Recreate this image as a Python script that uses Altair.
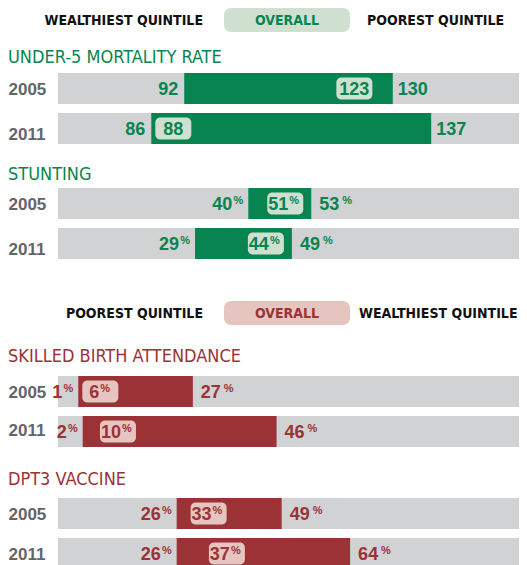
import altair as alt
import pandas as pd

# ---------------- data ----------------
indicators = ["UNDER-5 MORTALITY RATE", "STUNTING", "SKILLED BIRTH ATTENDANCE", "DPT3 VACCINE"]
years = ["2005", "2011"]
wealthiest = [[92, 86], [40, 29], [27, 46], [49, 64]]
poorest = [[130, 137], [53, 49], [1, 2], [26, 26]]
overall = [[123, 88], [51, 44], [6, 10], [33, 37]]
is_percent = [False, True, True, True]

header_top = ["WEALTHIEST QUINTILE", "OVERALL", "POOREST QUINTILE"]
header_bottom = ["POOREST QUINTILE", "OVERALL", "WEALTHIEST QUINTILE"]

# ---------------- styles ----------------
x_domains = [[69, 153], [0.7, 95.9], [-3.6, 101], [0, 101]]
year_shift_2011 = [6, 6, -1, 1]
GREEN, GREEN_LIGHT = "#078450", "#cfe0d1"
RED, RED_LIGHT = "#9b3235", "#e6c5c1"
TRACK = "#d1d2d4"
YEAR_COLOR = "#646469"
NARROW = "Liberation Sans Narrow, DejaVu Sans Condensed, sans-serif"
SANS = "Liberation Sans, Arial, sans-serif"
W = 461
BAND = [0, 71]


def header(labels, color, light, height, right_dx):
    df = pd.DataFrame({"label": labels, "role": ["left", "mid", "right"], "row": ["h"] * 3})
    xs = alt.Scale(type="band", domain=labels, range=[40, 418], paddingInner=0, paddingOuter=0)
    ys = alt.Scale(domain=["h"], range=[0, 24], paddingInner=0, paddingOuter=0)
    base = alt.Chart(df).encode(
        x=alt.X("label:N", scale=xs, axis=None),
        y=alt.Y("row:N", scale=ys, axis=None),
    )
    txt = dict(font=NARROW, fontSize=14, fontWeight="bold", dy=1)
    pill = base.mark_rect(color=light, cornerRadius=7).transform_filter("datum.role == 'mid'")
    mid = base.mark_text(color=color, **txt).encode(text="label:N").transform_filter("datum.role == 'mid'")
    left = base.mark_text(color="#111111", align="right", dx=42, **txt).encode(
        text="label:N").transform_filter("datum.role == 'left'")
    right = base.mark_text(color="#111111", align="left", dx=right_dx, **txt).encode(
        text="label:N").transform_filter("datum.role == 'right'")
    return alt.layer(pill, mid, left, right).properties(width=W, height=height)


def panel(i, color, light, height, title_offset):
    lo = [min(a, b) for a, b in zip(wealthiest[i], poorest[i])]
    hi = [max(a, b) for a, b in zip(wealthiest[i], poorest[i])]
    dmin, dmax = x_domains[i]
    ppu = W / (dmax - dmin)
    pill = [min(max(o, l + 22 / ppu), h - 26 / ppu) for o, l, h in zip(overall[i], lo, hi)]
    pct = is_percent[i]
    df = pd.DataFrame({"year": years, "lo": lo, "hi": hi, "overall": overall[i], "pill": pill})
    xs = alt.Scale(domain=[dmin, dmax], nice=False, zero=False)
    ys = alt.Scale(domain=years, range=BAND, paddingInner=9 / 40, paddingOuter=0)
    shift = year_shift_2011[i]
    base = alt.Chart(df).encode(
        y=alt.Y("year:N", scale=ys, title=None,
                axis=alt.Axis(orient="left", domain=False, ticks=False, labelAlign="left",
                              labelPadding=50, labelFont=SANS, labelFontSize=17,
                              labelFontWeight="bold", labelColor=YEAR_COLOR, labelBaseline="middle",
                              labelOffset=alt.ExprRef(f"datum.value == '2011' ? {shift} : 1")))
    )
    track = base.mark_bar(color=TRACK).encode(
        x=alt.XDatum(dmin, type="quantitative", scale=xs, axis=None), x2=alt.X2Datum(dmax))
    rng = base.mark_bar(color=color).encode(x=alt.X("lo:Q", scale=xs, axis=None), x2="hi:Q")
    pillm = base.mark_rect(color=light, width=36, height=22, cornerRadius=5).encode(
        x=alt.X("pill:Q", scale=xs, axis=None))
    num = dict(font=SANS, fontSize=18, fontWeight="bold", color=color, baseline="middle", dy=1)
    small = dict(font=SANS, fontSize=11, fontWeight="bold", color=color, baseline="middle", dy=-3)
    layers = [track, rng, pillm]
    if pct:
        layers += [
            base.mark_text(align="right", dx=-16, **num).encode(x="lo:Q", text="lo:Q"),
            base.mark_text(align="right", dx=-5, **small).encode(x="lo:Q", text=alt.value("%")),
            base.mark_text(align="left", dx=8, **num).encode(x="hi:Q", text="hi:Q"),
            base.mark_text(align="left", dx=31, **small).encode(x="hi:Q", text=alt.value("%")),
            base.mark_text(align="right", dx=3, **num).encode(x="pill:Q", text="overall:Q")
                .transform_filter("datum.overall >= 10"),
            base.mark_text(align="left", dx=4, **small).encode(x="pill:Q", text=alt.value("%"))
                .transform_filter("datum.overall >= 10"),
            base.mark_text(align="right", dx=-1, **num).encode(x="pill:Q", text="overall:Q")
                .transform_filter("datum.overall < 10"),
            base.mark_text(align="left", dx=0, **small).encode(x="pill:Q", text=alt.value("%"))
                .transform_filter("datum.overall < 10"),
        ]
    else:
        layers += [
            base.mark_text(align="right", dx=-6, **num).encode(x="lo:Q", text="lo:Q"),
            base.mark_text(align="left", dx=5, **num).encode(x="hi:Q", text="hi:Q"),
            base.mark_text(align="center", **num).encode(x="pill:Q", text="overall:Q"),
        ]
    return alt.layer(*layers).properties(
        width=W, height=height,
        title=alt.TitleParams(indicators[i], anchor="start", frame="bounds", font=NARROW,
                              fontSize=18, fontWeight="normal", color=color, offset=title_offset),
    )


chart = alt.vconcat(
    header(header_top, GREEN, GREEN_LIGHT, 41, -46),
    panel(0, GREEN, GREEN_LIGHT, 93, 6),
    panel(1, GREEN, GREEN_LIGHT, 113, 4),
    header(header_bottom, RED, RED_LIGHT, 47, -54),
    panel(2, RED, RED_LIGHT, 95, 10),
    panel(3, RED, RED_LIGHT, 71, 9),
    spacing=0,
).properties(padding=0).configure_view(stroke=None)

chart.save("out.html", embed_options={"renderer": "svg", "actions": False})
